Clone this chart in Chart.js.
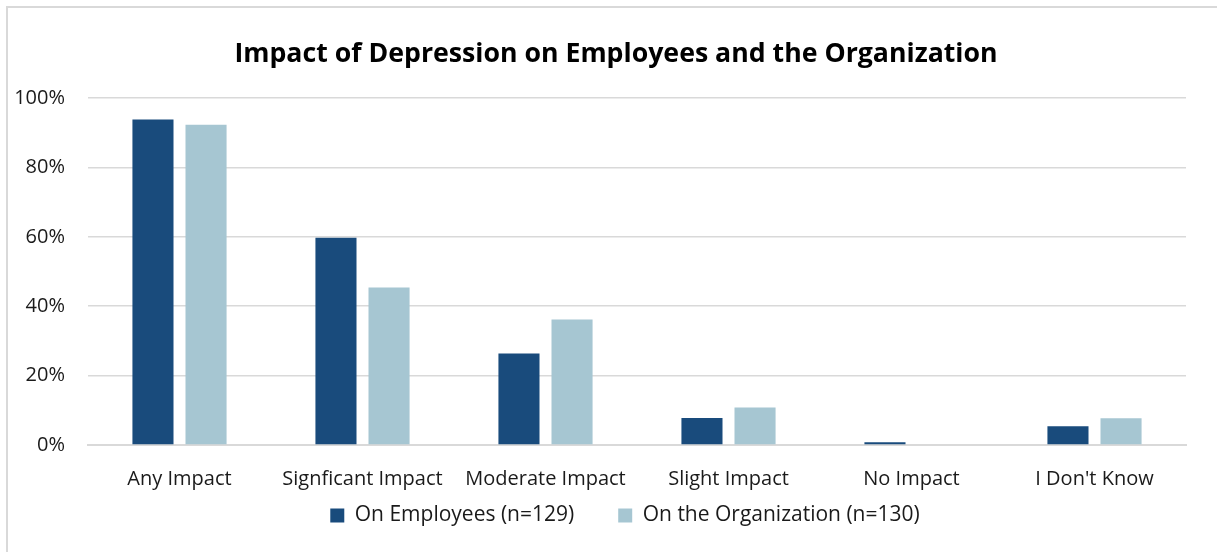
<!DOCTYPE html>
<html><head><meta charset="utf-8">
<script src="https://cdn.jsdelivr.net/npm/chart.js@4"></script>
<style>
html,body{margin:0;padding:0;background:#fff;}
#wrap{position:relative;width:1217px;height:552px;overflow:hidden;}
#frame{position:absolute;left:6px;top:6px;width:1300px;height:700px;border-left:2px solid #d9d9d9;border-top:2px solid #d9d9d9;}
canvas{position:absolute;left:0;top:0;}
</style></head>
<body>
<div id="wrap"><div id="frame"></div><canvas id="c" width="1217" height="552"></canvas></div>
<script>
const categories = ["Any Impact","Signficant Impact","Moderate Impact","Slight Impact","No Impact","I Don't Know"];
const employees = [93.8, 59.7, 26.4, 7.8, 0.8, 5.4];
const organization = [92.3, 45.4, 36.2, 10.8, 0, 7.7];
const seriesNames = ["On Employees (n=129)", "On the Organization (n=130)"];
const yTicks = [0, 20, 40, 60, 80, 100];
const titleText = "Impact of Depression on Employees and the Organization";

const FONT = "'Open Sans', Lato, sans-serif";
Chart.defaults.font.family = FONT;
Chart.defaults.color = '#1a1a1a';

const shiftBoxes = {
  id: 'shiftBoxes',
  afterLayout(chart) {
    const lg = chart.legend;
    if (lg) { lg.left += 32; lg.right += 32; }
    const t = chart.titleBlock;
    if (t) { t.left += 23; t.right += 23; }
  }
};

new Chart(document.getElementById('c'), {
  type: 'bar',
  data: {
    labels: categories,
    datasets: [
      {label: seriesNames[0], data: employees, backgroundColor: '#194b7c', categoryPercentage: 0.58, barPercentage: 0.774},
      {label: seriesNames[1], data: organization, backgroundColor: '#a6c6d2', categoryPercentage: 0.58, barPercentage: 0.774}
    ]
  },
  plugins: [shiftBoxes],
  options: {
    responsive: false,
    animation: false,
    layout: {padding: {left: 0, right: 31, top: 0, bottom: 16}},
    plugins: {
      title: {display: true, text: titleText, color: '#000', font: {size: 26.7, weight: 'bold', family: FONT}, padding: {top: 38, bottom: 28}},
      legend: {
        position: 'bottom',
        labels: {
          boxWidth: 14, boxHeight: 14, padding: 2, color: '#1a1a1a', font: {size: 21, family: FONT},
          generateLabels(chart) {
            const items = Chart.defaults.plugins.legend.labels.generateLabels(chart);
            items[0].text = items[0].text + '\u2003\u2003';
            return items;
          }
        }
      },
      tooltip: {enabled: false}
    },
    scales: {
      x: {
        grid: {display: false, drawTicks: false},
        border: {display: true, color: '#d9d9d9', width: 2},
        ticks: {padding: 22, font: {size: 20}, color: '#1a1a1a', autoSkip: false, maxRotation: 0},
        afterFit: s => { s.height = 58; }
      },
      y: {
        min: 0, max: 100,
        afterBuildTicks: s => { s.ticks = yTicks.map(v => ({value: v})); },
        grid: {color: '#d9d9d9', lineWidth: 1.5, drawTicks: false},
        border: {display: false},
        ticks: {padding: 23, font: {size: 20}, color: '#1a1a1a', callback: v => v + '%'},
        afterFit: s => { s.width = 88; }
      }
    }
  }
});
</script>
</body></html>
